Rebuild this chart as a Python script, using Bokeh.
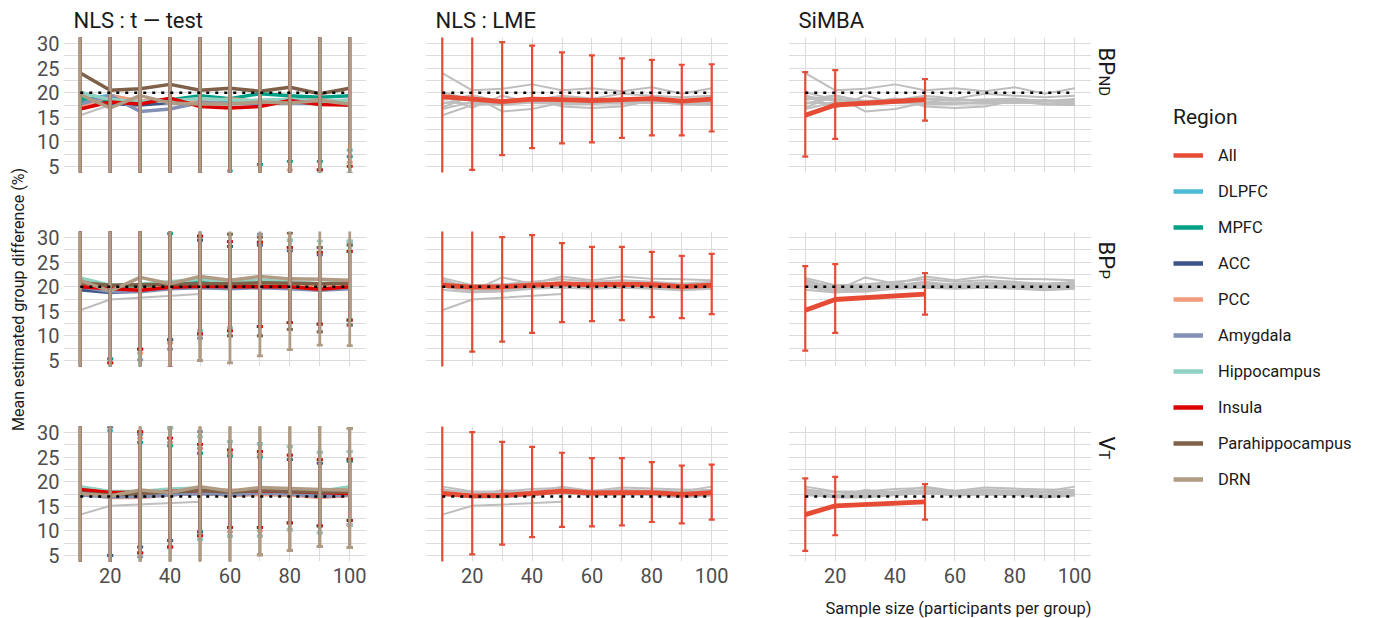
import numpy as np
from bokeh.plotting import figure
from bokeh.models import Range1d, FixedTicker, Legend, LegendItem
from bokeh.layouts import row, column
from bokeh.embed import file_html
from bokeh.resources import INLINE
from bokeh.core.properties import value

# ---------------------------------------------------------------- data
sample_sizes = [10, 20, 30, 40, 50, 60, 70, 80, 90, 100]
simba_sizes = [10, 20, 50]
regions = ["All", "DLPFC", "MPFC", "ACC", "PCC", "Amygdala", "Hippocampus",
           "Insula", "Parahippocampus", "DRN"]
region_colors = ["#E64B35", "#4DBBD5", "#00A087", "#3C5488", "#F39B7F",
                 "#8491B4", "#91D1C2", "#DC0000", "#7E6148", "#B09C85"]
methods = ["NLS : t \u2014 test", "NLS : LME", "SiMBA"]
outcome_main = ["BP", "BP", "V"]
outcome_sub = ["ND", "P", "T"]
true_values = [20, 20, 17]
y_ticks = [5, 10, 15, 20, 25, 30]
y_minor_ticks = [7.5, 12.5, 17.5, 22.5, 27.5]
x_ticks = [20, 40, 60, 80, 100]
x_minor_ticks = [10, 30, 50, 70, 90]

# ---- NLS : t-test, BP_ND
tt_mean_bpnd = {
    "DLPFC": [18.5, 19.5, 18.0, 18.5, 18.8, 18.5, 18.3, 18.6, 18.3, 18.0],
    "MPFC": [18.8, 18.4, 18.2, 18.5, 19.4, 18.8, 19.8, 19.4, 19.1, 19.4],
    "ACC": [18.0, 17.8, 17.5, 18.0, 18.0, 18.0, 17.8, 18.0, 17.8, 17.6],
    "PCC": [17.0, 19.4, 18.3, 18.6, 18.0, 18.8, 18.2, 18.3, 18.5, 18.0],
    "Amygdala": [17.7, 19.4, 16.2, 16.7, 18.0, 17.8, 17.8, 18.0, 17.8, 17.5],
    "Hippocampus": [20.1, 18.6, 18.2, 18.3, 18.8, 18.5, 18.4, 18.6, 18.2, 18.4],
    "Insula": [16.7, 18.1, 17.7, 18.9, 17.2, 16.9, 17.2, 18.4, 17.6, 17.5],
    "Parahippocampus": [24.0, 20.5, 20.8, 21.7, 20.5, 20.9, 20.3, 21.1, 19.8, 20.9],
    "DRN": [19.6, 16.9, 19.4, 17.9, 17.7, 17.7, 18.1, 17.9, 18.4, 17.7],
}
tt_lo_bpnd = {
    "DLPFC": [0.5, 1.0, 1.5, 2.0, 2.5, 4.1, 5.4, 3.0, 3.2, 8.3],
    "MPFC": [0.5, 1.0, 1.5, 2.0, 2.5, 3.0, 5.4, 6.0, 6.0, 7.0],
    "ACC": [0.3, 0.8, 1.2, 1.8, 2.2, 2.8, 3.0, 3.2, 4.3, 3.5],
    "PCC": [0.3, 0.8, 1.2, 1.8, 2.2, 2.6, 3.0, 4.3, 3.4, 5.8],
    "Amygdala": [0.2, 0.6, 1.0, 1.5, 2.0, 2.4, 2.8, 3.0, 3.2, 3.4],
    "Hippocampus": [0.4, 0.9, 1.3, 1.9, 2.4, 2.9, 3.2, 3.4, 3.5, 3.6],
    "Insula": [0.3, 0.8, 1.2, 1.7, 2.1, 2.5, 2.9, 3.3, 4.3, 5.0],
    "Parahippocampus": [0.5, 0.9, 1.3, 1.7, 2.0, 2.4, 2.8, 3.0, 3.2, 3.4],
    "DRN": [0.1, 0.5, 0.9, 1.3, 1.7, 2.1, 2.5, 2.8, 3.0, 3.2],
}
tt_hi_bpnd = {
    "DLPFC": [45, 42, 40, 38, 37, 36, 35, 34, 33.5, 33],
    "MPFC": [45, 42, 40, 38, 37, 36, 35, 34.5, 34, 33.5],
    "ACC": [44, 41, 39, 37.5, 36.5, 35.5, 34.5, 34, 33.5, 33],
    "PCC": [44, 41, 39, 37.5, 36.5, 35.5, 34.5, 34, 33.5, 33],
    "Amygdala": [43, 41, 39, 37, 36, 35, 34.5, 34, 33.5, 33],
    "Hippocampus": [45, 42, 40, 38, 37, 36, 35, 34.5, 34, 33.5],
    "Insula": [43, 40, 38.5, 37.5, 36, 35, 34, 34, 33.5, 32.5],
    "Parahippocampus": [48, 44, 42, 40, 38.5, 37.5, 36.5, 36, 35, 35],
    "DRN": [46, 42, 40, 39, 38, 37, 36, 35.5, 35, 34.5],
}

# ---- NLS : t-test, BP_P
tt_mean_bpp = {
    "DLPFC": [20.5, 19.0, 19.5, 20.0, 20.5, 19.8, 20.2, 20.0, 19.5, 20.2],
    "MPFC": [21.5, 19.5, 19.8, 20.3, 21.0, 20.3, 20.5, 20.6, 20.3, 20.5],
    "ACC": [19.4, 18.8, 19.2, 19.8, 20.0, 20.0, 20.0, 19.8, 19.6, 19.8],
    "PCC": [20.5, 19.5, 19.5, 20.0, 20.4, 20.2, 20.4, 20.4, 20.0, 20.3],
    "Amygdala": [20.0, 19.0, 19.0, 19.6, 19.8, 19.6, 19.8, 19.6, 19.3, 19.6],
    "Hippocampus": [21.8, 20.3, 20.5, 21.0, 21.5, 21.0, 21.3, 21.0, 20.6, 21.0],
    "Insula": [20.0, 19.6, 19.3, 19.9, 20.1, 20.0, 20.0, 20.0, 19.5, 20.0],
    "Parahippocampus": [20.8, 20.3, 20.4, 20.5, 20.6, 20.6, 20.8, 20.7, 20.6, 20.7],
    "DRN": [21.3, 19.1, 21.9, 20.6, 22.1, 21.3, 22.1, 21.6, 21.5, 21.3],
}
tt_lo_bpp = {
    "DLPFC": [1.0, 5.3, 3.0, 9.2, 10.4, 11.0, 11.9, 12.7, 12.4, 13.2],
    "MPFC": [1.0, 5.3, 3.0, 9.2, 11.0, 11.7, 11.9, 12.7, 12.4, 13.2],
    "ACC": [0.8, 3.0, 7.3, 9.2, 10.4, 11.7, 11.9, 12.7, 12.4, 13.2],
    "PCC": [0.8, 4.5, 6.5, 8.5, 10.4, 11.0, 11.9, 12.7, 12.4, 13.2],
    "Amygdala": [0.5, 3.0, 5.1, 7.3, 9.5, 10.0, 10.0, 11.3, 10.8, 12.2],
    "Hippocampus": [1.0, 3.0, 3.0, 3.5, 11.0, 11.7, 11.9, 12.7, 12.4, 13.2],
    "Insula": [0.8, 4.5, 7.3, 3.5, 10.4, 11.0, 11.9, 12.7, 12.4, 13.2],
    "Parahippocampus": [0.5, 2.5, 2.5, 3.0, 5.0, 10.0, 10.0, 11.3, 10.8, 12.2],
    "DRN": [0.2, 2.0, 2.0, 2.5, 5.0, 4.5, 5.9, 7.2, 8.1, 8.0],
}
tt_hi_bpp = {
    "DLPFC": [40, 35, 34, 33, 30.3, 28.2, 28.5, 28.0, 27.0, 29.3],
    "MPFC": [41, 35, 34, 30.8, 29.5, 28.2, 29.1, 29.5, 28.0, 28.5],
    "ACC": [39, 34, 33, 32, 29.5, 28.2, 28.5, 27.3, 26.5, 27.2],
    "PCC": [40, 34, 33, 32, 30.3, 29.2, 29.1, 28.0, 27.0, 27.2],
    "Amygdala": [40, 35, 34, 33, 30.3, 29.2, 30.7, 28.0, 28.0, 29.3],
    "Hippocampus": [42, 36, 35, 33, 32, 30.7, 30.1, 29.5, 29.3, 29.3],
    "Insula": [39, 34, 33, 32, 30.3, 29.2, 29.1, 28.0, 27.0, 27.2],
    "Parahippocampus": [41, 36, 35, 34, 33, 30.7, 30.1, 30.9, 28.0, 28.5],
    "DRN": [42, 38, 37, 36, 35, 34, 33.5, 33, 32.5, 32],
}

# ---- NLS : t-test, V_T
tt_mean_vt = {
    "DLPFC": [18.5, 17.0, 17.3, 17.8, 18.2, 17.5, 17.8, 17.6, 17.3, 17.8],
    "MPFC": [18.2, 17.2, 17.0, 17.5, 17.8, 17.3, 17.5, 17.3, 17.2, 17.5],
    "ACC": [17.8, 17.0, 17.2, 17.4, 17.6, 17.4, 17.6, 17.4, 17.2, 17.4],
    "PCC": [17.6, 16.8, 16.8, 17.3, 17.8, 17.2, 17.4, 17.3, 16.8, 17.2],
    "Amygdala": [17.3, 16.9, 17.0, 17.3, 17.8, 17.3, 17.7, 17.5, 17.0, 17.3],
    "Hippocampus": [19.0, 18.0, 18.0, 18.5, 18.7, 18.0, 18.3, 18.2, 18.0, 19.0],
    "Insula": [18.4, 17.8, 17.8, 18.0, 18.2, 18.2, 18.1, 18.0, 17.8, 17.6],
    "Parahippocampus": [17.7, 17.3, 17.6, 17.9, 18.2, 17.9, 18.2, 18.0, 17.9, 17.9],
    "DRN": [17.6, 17.1, 18.3, 17.8, 19.0, 18.1, 18.8, 18.6, 18.4, 18.3],
}
tt_lo_vt = {
    "DLPFC": [0.5, 3.0, 5.5, 8.0, 9.8, 10.7, 10.7, 11.6, 11.0, 12.1],
    "MPFC": [0.5, 5.0, 5.5, 8.0, 9.8, 10.7, 10.7, 11.6, 11.0, 12.1],
    "ACC": [0.5, 5.0, 6.7, 8.0, 9.8, 10.7, 10.7, 11.6, 11.0, 11.2],
    "PCC": [0.5, 3.0, 5.5, 6.7, 9.0, 9.8, 10.0, 10.2, 11.0, 11.2],
    "Amygdala": [0.3, 3.0, 4.7, 6.7, 8.2, 8.9, 8.9, 10.2, 9.6, 11.2],
    "Hippocampus": [0.5, 3.0, 3.0, 3.0, 8.2, 8.9, 8.9, 10.2, 9.6, 11.2],
    "Insula": [0.5, 3.0, 5.5, 6.7, 9.0, 10.7, 10.7, 11.6, 11.0, 12.1],
    "Parahippocampus": [0.3, 2.5, 3.0, 3.0, 3.0, 3.0, 5.1, 6.0, 6.8, 6.6],
    "DRN": [0.2, 2.0, 2.5, 2.5, 2.5, 2.8, 5.1, 6.0, 6.8, 6.6],
}
tt_hi_vt = {
    "DLPFC": [36, 30.4, 28.0, 28.0, 27.6, 28.2, 27.7, 25.4, 24.5, 24.6],
    "MPFC": [35, 33, 28.0, 27.3, 25.8, 25.2, 25.0, 24.5, 23.8, 24.2],
    "ACC": [35, 31.2, 29.7, 31.0, 26.8, 25.8, 26.2, 24.5, 23.8, 24.2],
    "PCC": [35, 33, 28.9, 28.0, 26.8, 25.8, 25.5, 25.4, 24.5, 24.6],
    "Amygdala": [36, 33, 29.7, 31.0, 30.2, 28.2, 27.7, 27.2, 26.0, 26.2],
    "Hippocampus": [37, 34, 30.2, 31.0, 29.2, 28.2, 27.7, 27.2, 26.0, 26.2],
    "Insula": [36, 33, 30.2, 28.9, 27.6, 26.5, 26.2, 25.4, 24.5, 24.6],
    "Parahippocampus": [37, 34, 32, 32, 32, 32, 32, 32, 32, 30.8],
    "DRN": [38, 35, 34, 33, 33, 32.5, 32, 32, 31.5, 30.8],
}

# ---- NLS : LME (All regions)
lme_mean_bpnd = [19.2, 18.7, 18.2, 18.7, 18.6, 18.4, 18.6, 18.8, 18.3, 18.7]
lme_lo_bpnd = [1.0, 4.3, 7.3, 8.7, 9.7, 9.9, 10.8, 11.3, 11.3, 12.1]
lme_hi_bpnd = [37.5, 33.2, 30.3, 29.6, 28.2, 27.6, 27.0, 26.7, 25.7, 25.8]
lme_mean_bpp = [20.3, 19.9, 20.0, 20.3, 20.6, 20.4, 20.5, 20.4, 20.0, 20.3]
lme_lo_bpp = [0.5, 6.8, 8.8, 10.6, 12.8, 13.0, 13.2, 13.8, 13.6, 14.4]
lme_hi_bpp = [40.0, 33.0, 30.1, 30.5, 28.9, 28.1, 28.1, 27.1, 26.3, 26.7]
lme_mean_vt = [17.6, 17.1, 17.2, 17.6, 18.1, 17.7, 17.8, 17.8, 17.4, 17.8]
lme_lo_vt = [0.5, 5.2, 7.2, 8.7, 10.8, 10.9, 11.1, 11.8, 11.5, 12.3]
lme_hi_vt = [36.0, 30.1, 28.1, 27.1, 25.9, 24.8, 24.8, 24.0, 23.3, 23.5]

# ---- SiMBA (All regions)
simba_mean_bpnd = [15.4, 17.5, 18.6]
simba_lo_bpnd = [7.0, 10.6, 14.3]
simba_hi_bpnd = [24.2, 24.6, 22.8]
simba_mean_bpp = [15.2, 17.4, 18.5]
simba_lo_bpp = [7.0, 10.6, 14.3]
simba_hi_bpp = [24.2, 24.6, 22.8]
simba_mean_vt = [13.3, 15.1, 15.9]
simba_lo_vt = [5.9, 9.1, 12.3]
simba_hi_vt = [20.7, 21.0, 19.5]

tt_mean = [tt_mean_bpnd, tt_mean_bpp, tt_mean_vt]
tt_lo = [tt_lo_bpnd, tt_lo_bpp, tt_lo_vt]
tt_hi = [tt_hi_bpnd, tt_hi_bpp, tt_hi_vt]
lme_mean = [lme_mean_bpnd, lme_mean_bpp, lme_mean_vt]
lme_lo = [lme_lo_bpnd, lme_lo_bpp, lme_lo_vt]
lme_hi = [lme_hi_bpnd, lme_hi_bpp, lme_hi_vt]
simba_mean = [simba_mean_bpnd, simba_mean_bpp, simba_mean_vt]
simba_lo = [simba_lo_bpnd, simba_lo_bpp, simba_lo_vt]
simba_hi = [simba_hi_bpnd, simba_hi_bpp, simba_hi_vt]

# ---------------------------------------------------------------- style / layout
FONT = "Roboto"
GRID = "#DCDCDC"
GRAY = "#BEBEBE"
TEXT = "#1A1A1A"
TICK = "#4D4D4D"
RED = region_colors[0]
X_LIM = (4.4, 105.6)
Y_LIM = (3.75, 31.25)
FRAME_W, FRAME_H = 303, 135
LEFT = 35
TOPS = [37, 29, 29]
RIGHTS = [24, 25, 3]
BOTTOMS = [30, 31, 31]
CAP = 1.0
HEIGHTS = [t + FRAME_H + b for t, b in zip(TOPS, BOTTOMS)]
WIDTHS = [LEFT + FRAME_W + r for r in RIGHTS]
TOTAL_H = 618
XT_H = TOTAL_H - sum(HEIGHTS)
FRAME_TOPS = [TOPS[0], HEIGHTS[0] + TOPS[1], HEIGHTS[0] + HEIGHTS[1] + TOPS[2]]
COL_LEFTS = [0, WIDTHS[0], WIDTHS[0] + WIDTHS[1]]


def errorbars(p, xs, lo, hi, color, width):
    xs = np.asarray(xs, float)
    lo = np.asarray(lo, float)
    hi = np.asarray(hi, float)
    p.segment(xs, lo, xs, hi, line_color=color, line_width=width)
    p.segment(xs - CAP, lo, xs + CAP, lo, line_color=color, line_width=width)
    p.segment(xs - CAP, hi, xs + CAP, hi, line_color=color, line_width=width)


def make_panel(r, c):
    p = figure(width=WIDTHS[c], height=HEIGHTS[r],
               x_range=Range1d(*X_LIM), y_range=Range1d(*Y_LIM),
               output_backend="svg", toolbar_location=None,
               min_border_left=LEFT, min_border_right=RIGHTS[c],
               min_border_top=TOPS[r], min_border_bottom=BOTTOMS[r])
    if r == 0:
        p.title.text = methods[c]
        p.title.align = "left"
        p.title.offset = 10
        p.title.standoff = 10
        p.title.text_font = FONT
        p.title.text_font_size = "22px"
        p.title.text_font_style = "normal"
        p.title.text_color = TEXT
    else:
        p.title.visible = False
    p.outline_line_color = None
    p.background_fill_color = "white"
    p.border_fill_color = "white"

    p.xgrid.ticker = FixedTicker(ticks=x_ticks, minor_ticks=x_minor_ticks)
    p.ygrid.ticker = FixedTicker(ticks=y_ticks, minor_ticks=y_minor_ticks)
    for g in (p.xgrid, p.ygrid):
        g.grid_line_color = GRID
        g.grid_line_width = 1.1
        g.minor_grid_line_color = GRID
        g.minor_grid_line_width = 1.1

    for ax in (p.xaxis, p.yaxis):
        ax.axis_line_color = None
        ax.major_tick_line_color = None
        ax.minor_tick_line_color = None
        ax.major_tick_out = 0
        ax.major_tick_in = 0
        ax.major_label_text_font = FONT
        ax.major_label_text_font_size = "20px"
        ax.major_label_text_color = TICK
    p.xaxis.ticker = FixedTicker(ticks=x_ticks)
    p.yaxis.ticker = FixedTicker(ticks=y_ticks)
    p.xaxis.major_label_standoff = 6
    p.yaxis.major_label_standoff = 4
    if c != 0:
        p.yaxis.visible = False
    if r != 2:
        p.xaxis.visible = False

    # every series of this outcome, in grey, behind
    for reg in regions[1:]:
        p.line(sample_sizes, tt_mean[r][reg], line_color=GRAY, line_width=2,
               line_join="round")
    p.line(sample_sizes, lme_mean[r], line_color=GRAY, line_width=2, line_join="round")
    p.line(simba_sizes, simba_mean[r], line_color=GRAY, line_width=2, line_join="round")

    if c == 0:
        for reg, col in zip(regions[1:], region_colors[1:]):
            p.line(sample_sizes, tt_mean[r][reg], line_color=col, line_width=3.5,
                   line_join="round")
        for reg, col in zip(regions[1:], region_colors[1:]):
            errorbars(p, sample_sizes, tt_lo[r][reg], tt_hi[r][reg], col, 2.8)
    elif c == 1:
        p.line(sample_sizes, lme_mean[r], line_color=RED, line_width=4.8,
               line_join="round")
        errorbars(p, sample_sizes, lme_lo[r], lme_hi[r], RED, 2.2)
    else:
        p.line(simba_sizes, simba_mean[r], line_color=RED, line_width=4.8,
               line_join="round")
        errorbars(p, simba_sizes, simba_lo[r], simba_hi[r], RED, 2.2)

    # true group difference
    p.line([sample_sizes[0], sample_sizes[-1]], [true_values[r], true_values[r]],
           line_color="black", line_width=2.6, line_dash="3 6")
    return p


def blank(width, height):
    f = figure(width=width, height=height, x_range=Range1d(0, width),
               y_range=Range1d(height, 0), output_backend="svg",
               toolbar_location=None, min_border_left=0, min_border_right=0,
               min_border_top=0, min_border_bottom=0)
    f.title.visible = False
    f.axis.visible = False
    f.grid.visible = False
    f.outline_line_color = None
    f.background_fill_color = "white"
    f.border_fill_color = "white"
    return f


GRID_W = sum(WIDTHS)

# x-axis title
xtitle = blank(GRID_W, XT_H)
xtitle.text(x=[COL_LEFTS[2] + LEFT + FRAME_W], y=[608 - (TOTAL_H - XT_H)],
            text=["Sample size (participants per group)"],
            text_font=value(FONT), text_font_size="16.5px", text_color=TEXT,
            text_align="right", text_baseline="alphabetic")

panel_rows = [row(*[make_panel(r, c) for c in range(3)]) for r in range(3)]
grid = column(*panel_rows, xtitle)

# y-axis title
ytitle = blank(28, TOTAL_H)
ytitle.text(x=[18], y=[(FRAME_TOPS[0] + FRAME_TOPS[2] + FRAME_H) / 2],
            text=["Mean estimated group difference (%)"], angle=np.pi / 2,
            text_font=value(FONT), text_font_size="16px", text_color=TEXT,
            text_align="center", text_baseline="middle")

# facet strip labels (right side)
strip = blank(45, TOTAL_H)
main_len = [28, 28, 14]
for r in range(3):
    strip.text(x=[12], y=[FRAME_TOPS[r] + 10], text=[outcome_main[r]],
               angle=-np.pi / 2, text_font=value(FONT), text_font_size="22px",
               text_color=TEXT, text_align="left", text_baseline="alphabetic")
    strip.text(x=[9], y=[FRAME_TOPS[r] + 10 + main_len[r]], text=[outcome_sub[r]],
               angle=-np.pi / 2, text_font=value(FONT), text_font_size="15px",
               text_color=TEXT, text_align="left", text_baseline="alphabetic")

# legend
LEG_W = 226
legfig = blank(LEG_W, TOTAL_H)
items = []
for reg, col in zip(regions, region_colors):
    rend = legfig.line(x=[-20, -10], y=[-20, -10], line_color=col, line_width=4.5)
    items.append(LegendItem(label=reg, renderers=[rend]))
LEG_TOP = 105
LEG_H = 24 + 16 + 10 * 20 + 9 * 16
legend = Legend(items=items, location=(34, TOTAL_H - LEG_TOP - LEG_H), title="Region",
                title_text_font=FONT, title_text_font_size="21px",
                title_text_font_style="normal", title_text_color=TEXT,
                title_standoff=16,
                label_text_font=FONT, label_text_font_size="16.5px",
                label_text_color=TEXT, label_standoff=15,
                glyph_width=30, glyph_height=20, label_height=20, spacing=16,
                margin=0, padding=0, border_line_color=None,
                background_fill_alpha=0)
legfig.add_layout(legend)

layout = row(ytitle, grid, strip, legfig)

with open("out.html", "w") as fh:
    fh.write(file_html(layout, INLINE))
